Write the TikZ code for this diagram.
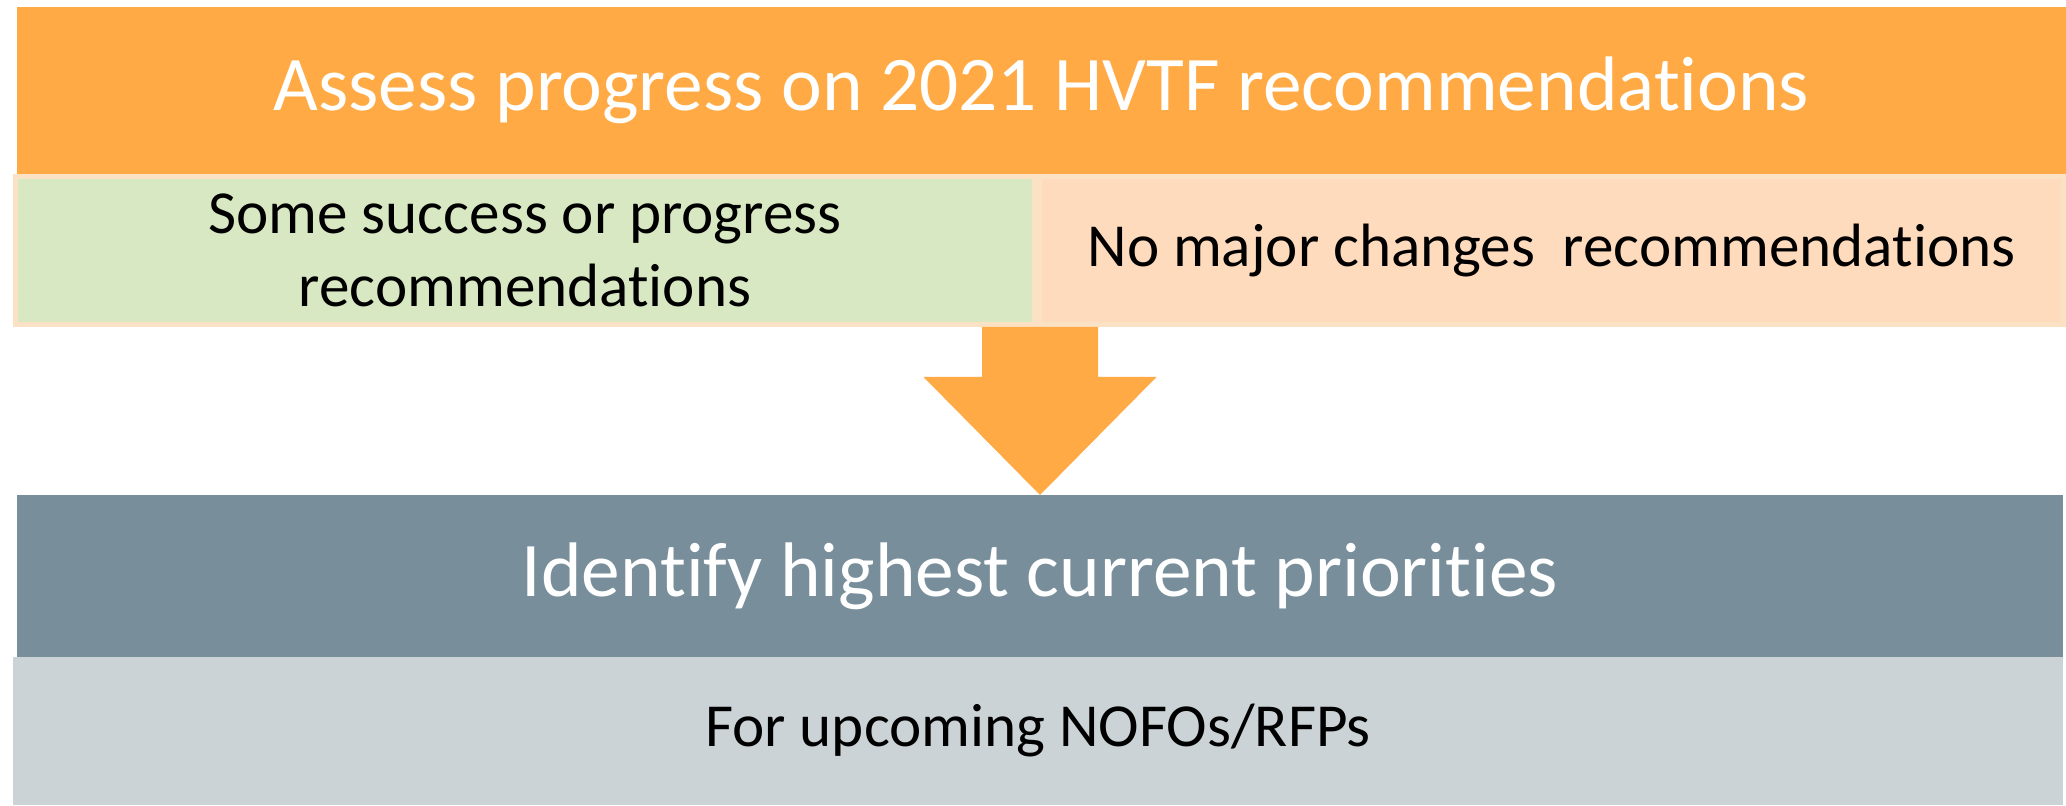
\documentclass[tikz,border=0pt]{standalone}
\usepackage{fontspec}
\setmainfont[Ligatures=NoCommon]{Carlito}
\definecolor{hvorange}{RGB}{255,170,68}
\definecolor{hvgreen}{RGB}{216,232,194}
\definecolor{hvpeach}{RGB}{255,219,190}
\definecolor{hvedge}{RGB}{252,226,196}
\definecolor{hvslate}{RGB}{120,143,155}
\definecolor{hvmist}{RGB}{203,211,215}
\begin{document}
\begin{tikzpicture}[
	bigbar/.style={inner sep=0pt, outer sep=0pt, text=white, font=\fontsize{22}{26}\selectfont},
	smallbox/.style={inner sep=0pt, outer sep=0pt, draw=hvedge, line width=0.5mm, align=center, font=\fontsize{17.4}{20.6}\selectfont}
	]
				\useasboundingbox (0,0) rectangle (20.66,8.05);

				% Assess
				\node[bigbar, fill=hvorange, minimum width=20.49cm, minimum height=1.67cm] (assess) at (10.415,7.145) {Assess progress on 2021 HVTF recommendations};
				\node[smallbox, fill=hvgreen, minimum width=10.19cm, minimum height=1.48cm] (success) at (5.25,5.545) {Some success or progress\\recommendations};
				\node[smallbox, fill=hvpeach, minimum width=10.24cm, minimum height=1.48cm] (nochange) at (15.515,5.545) {No major changes\ \ recommendations};

				% Identify
				\node[bigbar, fill=hvslate, minimum width=20.46cm, minimum height=1.62cm] (identify) at (10.40,2.29) {Identify highest current priorities};
				\node[inner sep=0pt, outer sep=0pt, fill=hvmist, minimum width=20.50cm, minimum height=1.48cm, font=\fontsize{17.4}{20.6}\selectfont] (nofo) at (10.38,0.74) {For upcoming NOFOs/RFPs};

				% Arrow
				\fill[hvorange] (identify.north) -- ++(1.165,1.18) -- ++(-0.585,0) -- ++(0,0.5) -- ++(-1.16,0) -- ++(0,-0.5) -- ++(-0.585,0) -- cycle;
			\end{tikzpicture}
\end{document}
